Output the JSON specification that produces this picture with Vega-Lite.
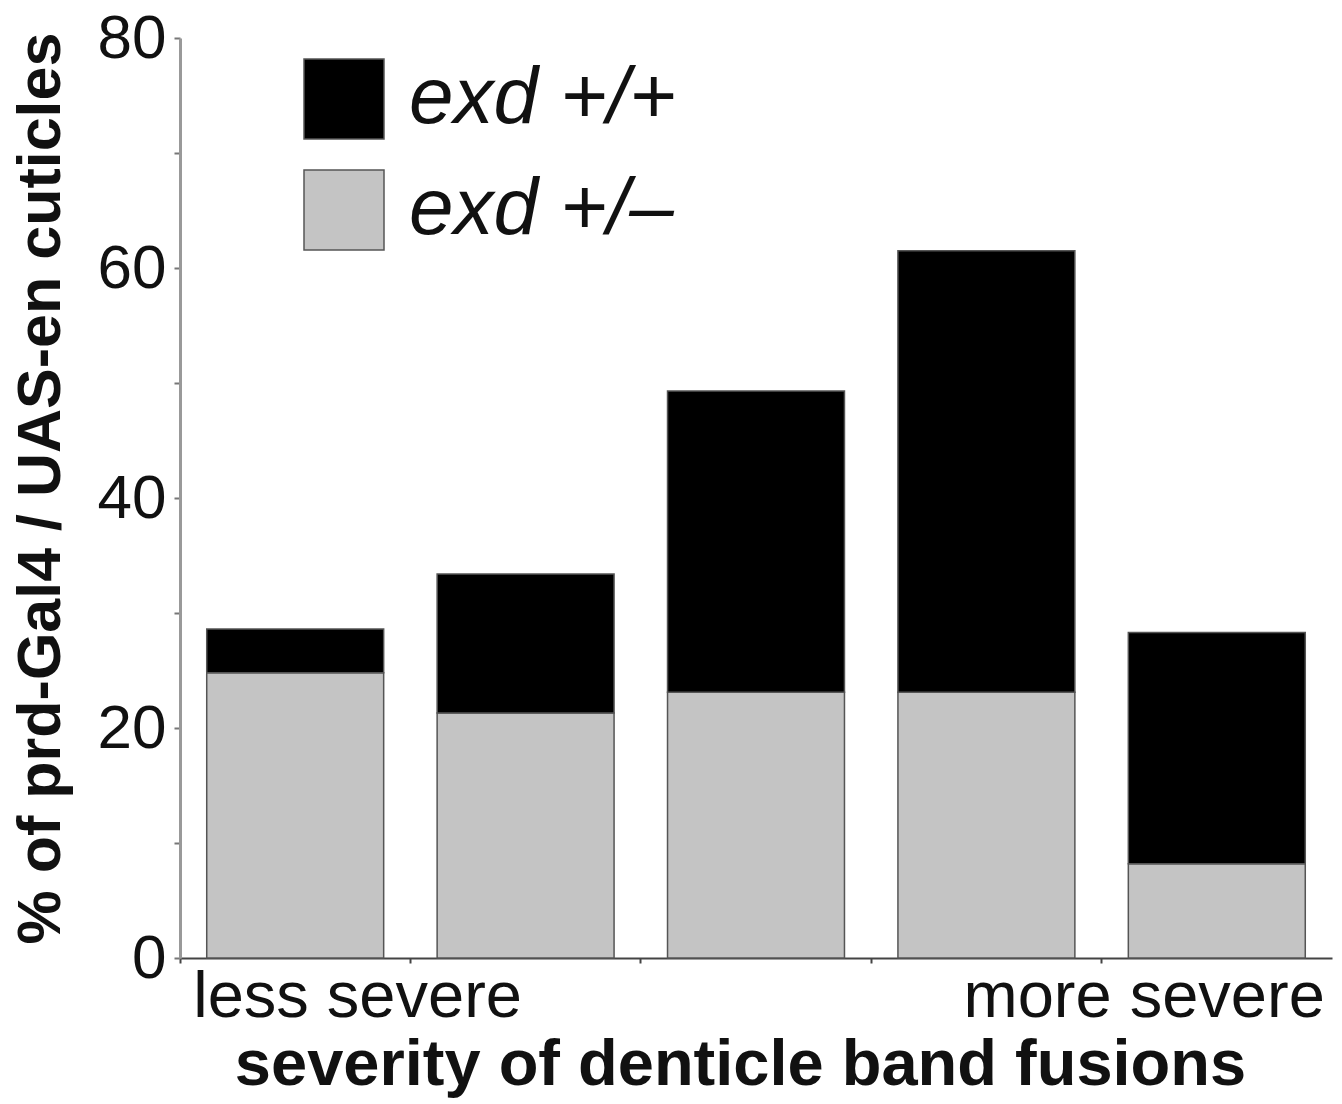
{
  "$schema": "https://vega.github.io/schema/vega-lite/v6.json",
  "width": 1152,
  "height": 920,
  "autosize": {"type": "none"},
  "padding": {"left": 180, "top": 38, "right": 10, "bottom": 146},
  "background": "white",
  "config": {
    "view": {"stroke": null},
    "font": "Liberation Sans"
  },
  "data": {
    "values": [
      {"severity": "c1", "genotype": "exd +/–", "percent": 24.8},
      {"severity": "c1", "genotype": "exd +/+", "percent": 3.8},
      {"severity": "c2", "genotype": "exd +/–", "percent": 21.3},
      {"severity": "c2", "genotype": "exd +/+", "percent": 12.1},
      {"severity": "c3", "genotype": "exd +/–", "percent": 23.1},
      {"severity": "c3", "genotype": "exd +/+", "percent": 26.2},
      {"severity": "c4", "genotype": "exd +/–", "percent": 23.1},
      {"severity": "c4", "genotype": "exd +/+", "percent": 38.4},
      {"severity": "c5", "genotype": "exd +/–", "percent": 8.2},
      {"severity": "c5", "genotype": "exd +/+", "percent": 20.1}
    ]
  },
  "mark": {"type": "bar", "stroke": "#555555", "strokeWidth": 1.5},
  "encoding": {
    "x": {
      "field": "severity",
      "type": "nominal",
      "scale": {"paddingInner": 0.232, "paddingOuter": 0.116},
      "axis": {
        "title": "severity of denticle band fusions",
        "titleFontSize": 65,
        "titleFontWeight": "bold",
        "titleColor": "#111",
        "titlePadding": 4,
        "titleX": 560,
        "bandPosition": -0.151,
        "domainColor": "#444",
        "domainWidth": 2,
        "tickColor": "#444",
        "tickWidth": 2,
        "tickSize": 5,
        "labelAngle": 0,
        "labelFontSize": 65,
        "labelColor": "#111",
        "labelPadding": 2,
        "labelBaseline": "top",
        "labelExpr": "datum.value == 'c1' ? 'less severe' : (datum.value == 'c5' ? 'more severe' : '')",
        "labelAlign": {"condition": {"test": "datum.value == 'c1'", "value": "left"}, "value": "right"},
        "labelOffset": {"condition": {"test": "datum.value == 'c1'", "value": -102}, "value": 108},
        "labelOverlap": false,
        "labelBound": false,
        "labelLimit": 0
      }
    },
    "y": {
      "field": "percent",
      "type": "quantitative",
      "stack": "zero",
      "scale": {"domain": [0, 80], "nice": false},
      "axis": {
        "title": "% of prd-Gal4 / UAS-en cuticles",
        "titleFontSize": 61,
        "titleFontWeight": "bold",
        "titleColor": "#111",
        "titlePadding": 25,
        "titleY": 450,
        "values": [0, 10, 20, 30, 40, 50, 60, 70, 80],
        "labelExpr": "datum.value % 20 == 0 ? datum.label : ''",
        "labelFontSize": 62,
        "labelColor": "#111",
        "labelPadding": 8,
        "domainColor": "#999",
        "domainWidth": 3,
        "tickColor": "#777",
        "tickWidth": 2,
        "tickSize": 6,
        "grid": false
      }
    },
    "color": {
      "field": "genotype",
      "type": "nominal",
      "scale": {"domain": ["exd +/+", "exd +/–"], "range": ["#000000", "#c4c4c4"]},
      "legend": {
        "title": null,
        "orient": "none",
        "legendX": 123,
        "legendY": 20,
        "padding": 0,
        "symbolType": "square",
        "symbolSize": 6400,
        "symbolStrokeColor": "#555",
        "symbolStrokeWidth": 1.5,
        "rowPadding": 25,
        "labelFontSize": 80,
        "labelFontStyle": "italic",
        "labelColor": "#111",
        "labelOffset": 24,
        "labelLimit": 0
      }
    },
    "order": {"field": "genotype", "sort": "descending"}
  }
}
